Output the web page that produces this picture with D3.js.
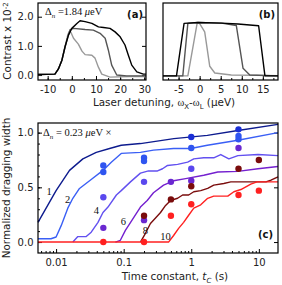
<!DOCTYPE html>
<meta charset="utf-8">
<script src="https://cdn.jsdelivr.net/npm/d3@7"></script>
<style>

body {
  margin: 0;
  background: #fff;
}

svg text {
  font-family: "DejaVu Sans", sans-serif;
  font-size: 10px;
  fill: #222;
}

svg text.title {
  font-size: 10.4px;
}

svg text.serif {
  font-family: "Liberation Serif", serif;
  font-size: 10.5px;
  fill: #111;
}

svg text.panel {
  font-weight: bold;
  font-size: 10px;
  fill: #111;
}

.frame {
  fill: none;
  stroke: #000;
  stroke-width: 1.2;
}

.axis path {
  display: none;
}

.axis line {
  stroke: #000;
}

.curve {
  fill: none;
  stroke-width: 1.4;
  stroke-linejoin: round;
}

</style>
<body>
<div id="chart"></div>
<script type="text/javascript">

// panel (a): contrast vs laser detuning, Delta_n = 1.84 ueV
var aBlack = [[-14,0.02],[-7,0.03],[-5.6,0.2],[-4.1,0.51],[-2.8,0.97],[-1.4,1.37],[0,1.6],[2.1,1.77],[3.4,1.86],[5.5,1.83],[8.3,1.77],[11,1.65],[13.1,1.63],[15.8,1.6],[17.9,1.48],[20,1.31],[22,1.03],[23.4,0.68],[24.8,0.34],[26.9,0.11],[29.6,0.03],[30.7,0.03]];
var aDark = [[-14,0.02],[-7,0.03],[-5.6,0.2],[-4.1,0.51],[-2.8,0.97],[-1.4,1.37],[-0.7,1.56],[0.7,1.6],[5.5,1.56],[8.9,1.54],[11.7,1.43],[13.8,1.26],[15.1,0.86],[16.5,0.34],[18.6,0.0],[22.7,-0.03],[30.7,-0.03]];
var aLight = [[-14,0.02],[-7,0.03],[-5.6,0.2],[-4.1,0.51],[-2.8,0.97],[-1.6,1.4],[-1.0,1.5],[-0.3,1.45],[0.7,1.26],[2.7,1.06],[4.2,0.82],[5.5,0.7],[8.3,0.68],[9.6,0.58],[11,0.27],[12.4,0.03],[15.8,-0.07],[24,-0.05],[30.7,-0.05]];

// panel (b)
var bBlack = [[-8.7,-0.03],[-5.5,-0.03],[-3.7,1.77],[-0.4,1.8],[5.2,1.78],[9.1,1.75],[14,1.69],[15.5,-0.03],[18.6,-0.03]];
var bDark = [[-8.7,-0.03],[-4.0,-0.03],[-2.8,1.77],[-0.4,1.8],[5.2,1.78],[8.7,1.7],[10.3,0.23],[11.9,0],[18.6,-0.03]];
var bLight = [[-8.7,-0.03],[-2.8,-0.03],[-0.6,1.77],[-0.1,1.79],[1.2,1.48],[2.4,0.3],[3.6,0.07],[7.5,0.0],[18.6,-0.02]];

// panel (c): normalized dragging width vs time constant, Delta_n multiples
var curve1 = [[0.0054,0.18],[0.01,0.47],[0.0158,0.655],[0.0249,0.76],[0.0393,0.82],[0.0619,0.855],[0.092,0.885],[0.177,0.9],[0.553,0.945],[1.73,0.975],[4.9,1.02],[19.2,1.075]];
var curve2 = [[0.0054,0.03],[0.0084,0.03],[0.01,0.046],[0.0119,0.15],[0.0149,0.31],[0.0177,0.40],[0.0222,0.49],[0.032,0.565],[0.0494,0.655],[0.0656,0.73],[0.092,0.81],[0.177,0.82],[0.276,0.84],[0.548,0.855],[0.98,0.855],[1.73,0.885],[4.9,0.93],[19.2,1.0]];
var curve4 = [[0.0177,0],[0.021,0.05],[0.0279,0.05],[0.0331,0.09],[0.0417,0.18],[0.0494,0.27],[0.0586,0.32],[0.078,0.43],[0.092,0.47],[0.126,0.55],[0.177,0.63],[0.233,0.65],[0.317,0.65],[0.376,0.67],[0.446,0.70],[0.628,0.71],[0.885,0.73],[1.09,0.76],[1.53,0.77],[2.15,0.77],[2.73,0.80],[3.6,0.76],[4.9,0.79],[9.7,0.80],[19.2,0.79]];
var curve6 = [[0.0754,0],[0.0893,0.016],[0.106,0.107],[0.133,0.2],[0.177,0.32],[0.223,0.38],[0.276,0.45],[0.389,0.52],[0.548,0.56],[0.826,0.58],[1.53,0.61],[2.47,0.64],[4.9,0.646],[9.7,0.67],[19.2,0.69]];
var curve8 = [[0.177,0],[0.21,0.08],[0.249,0.17],[0.296,0.22],[0.351,0.27],[0.417,0.335],[0.494,0.38],[0.628,0.40],[0.745,0.43],[0.915,0.43],[1.09,0.46],[1.38,0.47],[1.75,0.49],[2.15,0.52],[3.03,0.535],[3.85,0.55],[12.7,0.55],[15.1,0.565],[19.2,0.595]];
var curve10 = [[0.0054,0],[0.461,0],[0.548,0.06],[0.65,0.125],[0.771,0.18],[0.915,0.245],[1.09,0.31],[1.38,0.34],[1.75,0.40],[2.15,0.42],[3.47,0.42],[4.27,0.46],[5.42,0.48],[7.6,0.53],[9.4,0.55],[19.2,0.55]];

// measured points
var dots1 = [[1,0.96],[5,1.03]];
var dots2 = [[0.05,0.70],[0.05,0.64],[0.2,0.77],[0.2,0.74],[1,0.86],[5,0.97],[5,0.94]];
var dots4 = [[0.05,0.41],[0.2,0.55],[1,0.67]];
var dots6 = [[0.05,0.13],[0.2,0.20],[0.5,0.55],[1,0.56],[5,0.86]];
var dots8 = [[0.2,0.24],[0.5,0.39],[1,0.51],[5,0.67],[10,0.75]];
var dots10 = [[0.05,0],[0.2,0],[0.5,0.24],[1,0.345],[5,0.43],[10,0.47]];

// curve number labels (position in data units)
var curveNames = ["1", "2", "4", "6", "8", "10"];
var labelT = [0.0079, 0.0148, 0.0393, 0.0989, 0.21, 0.417];
var labelV = [0.43, 0.355, 0.255, 0.155, 0.07, 0.016];

var aTicks = [-10, 0, 10, 20, 30];
var bTicks = [-5, 0, 5, 10, 15];
var contrastTicks = [0, 1, 2];
var cxTicks = [0.01, 0.1, 1, 10];
var cxTickLabels = ["0.01", "0.1", "1", "10"];
var cyTicks = [0, 0.5, 1];

var svg = d3.select("#chart").append("svg")
    .attr("width", 282)
    .attr("height", 285);

// scales
var xa = d3.scaleLinear().domain([-14, 30.7]).range([38, 146]);
var xb = d3.scaleLinear().domain([-8.7, 18.6]).range([163, 278]);
var ya = d3.scaleLinear().domain([-0.17, 2.47]).range([80, 3]);
var xc = d3.scaleLog().domain([0.0054, 19.2]).range([38, 278]);
var yc = d3.scaleLinear().domain([-0.1, 1.088]).range([253, 123]);

// put text with sub/superscripts into a text element
function addRich(text, parts) {
  var shift = 0;
  parts.forEach(function(p) {
    var target = p.sub ? 2.5 : (p.sup ? -3.5 : 0);
    var ts = text.append("tspan").attr("dy", target - shift).text(p.t);
    shift = target;
    if (p.i) ts.style("font-style", "italic");
    if (p.serif) ts.style("font-family", "'Liberation Serif', serif");
    if (target !== 0) ts.style("font-size", "7px");
  });
}

// ---------- panel (a) ----------
svg.append("g")
    .attr("class", "axis")
    .attr("transform", "translate(0,80)")
    .call(d3.axisBottom(xa).tickValues(d3.range(-10, 31, 5)).tickSize(-2).tickFormat(""));
svg.append("g")
    .attr("class", "axis")
    .attr("transform", "translate(0,80)")
    .call(d3.axisBottom(xa).tickValues(aTicks).tickSize(-4).tickPadding(6).tickFormat(function(d) { return String(d); }));
svg.append("g")
    .attr("class", "axis")
    .attr("transform", "translate(38,0)")
    .call(d3.axisLeft(ya).tickValues(contrastTicks).tickSize(-4).tickPadding(4.5).tickFormat(d3.format(".1f")));
svg.append("g")
    .attr("class", "axis")
    .attr("transform", "translate(146,0)")
    .call(d3.axisRight(ya).tickValues(contrastTicks).tickSize(-4).tickFormat(""));

var lineA = d3.line()
    .x(function(d) { return xa(d[0]); })
    .y(function(d) { return ya(d[1]); });

[[aLight, "#999"], [aDark, "#555"], [aBlack, "#000"]].forEach(function(s) {
  svg.append("path")
      .datum(s[0])
      .attr("class", "curve")
      .attr("stroke", s[1])
      .attr("d", lineA);
});

svg.append("rect").attr("class", "frame")
    .attr("x", 38).attr("y", 3).attr("width", 108).attr("height", 77);

var ta = svg.append("text").attr("class", "serif").attr("x", 45).attr("y", 15);
addRich(ta, [{t: "Δ"}, {t: "n", i: true, sub: true}, {t: " =1.84 "}, {t: "μ", i: true}, {t: "eV"}]);

svg.append("text").attr("class", "panel")
    .attr("x", 143).attr("y", 18).attr("text-anchor", "end").text("(a)");

// ---------- panel (b) ----------
svg.append("g")
    .attr("class", "axis")
    .attr("transform", "translate(0,80)")
    .call(d3.axisBottom(xb).tickValues(d3.range(-7.5, 18, 2.5)).tickSize(-2).tickFormat(""));
svg.append("g")
    .attr("class", "axis")
    .attr("transform", "translate(0,80)")
    .call(d3.axisBottom(xb).tickValues(bTicks).tickSize(-4).tickPadding(6).tickFormat(function(d) { return String(d); }));

var lineB = d3.line()
    .x(function(d) { return xb(d[0]); })
    .y(function(d) { return ya(d[1]); });

[[bLight, "#999"], [bDark, "#555"], [bBlack, "#000"]].forEach(function(s) {
  svg.append("path")
      .datum(s[0])
      .attr("class", "curve")
      .attr("stroke", s[1])
      .attr("d", lineB);
});

svg.append("rect").attr("class", "frame")
    .attr("x", 163).attr("y", 3).attr("width", 115).attr("height", 77);

svg.append("text").attr("class", "panel")
    .attr("x", 275).attr("y", 18).attr("text-anchor", "end").text("(b)");

// shared labels of top row
var ylabA = svg.append("text")
    .attr("class", "title")
    .attr("transform", "translate(11,41) rotate(-90)")
    .attr("text-anchor", "middle");
addRich(ylabA, [{t: "Contrast x 10"}, {t: "-2", sup: true}]);

var xlabA = svg.append("text")
    .attr("class", "title")
    .attr("x", 164).attr("y", 106)
    .attr("text-anchor", "middle");
addRich(xlabA, [{t: "Laser detuning, "}, {t: "ω", serif: true}, {t: "X", sub: true}, {t: "-"}, {t: "ω", serif: true}, {t: "L", sub: true}, {t: " (μeV)"}]);

// ---------- panel (c) ----------
var minorC = [];
[-3, -2, -1, 0, 1].forEach(function(e) {
  for (var k = 2; k < 10; k++) {
    var v = k * Math.pow(10, e);
    if (v > 0.0054 && v < 19.2) minorC.push(v);
  }
});

svg.append("g")
    .attr("class", "axis")
    .attr("transform", "translate(0,253)")
    .call(d3.axisBottom(xc).tickValues(minorC).tickSize(-2).tickFormat(""));
svg.append("g")
    .attr("class", "axis")
    .attr("transform", "translate(0,253)")
    .call(d3.axisBottom(xc).tickValues(cxTicks).tickSize(-4).tickPadding(6)
      .tickFormat(function(d, i) { return cxTickLabels[i]; }));
svg.append("g")
    .attr("class", "axis")
    .attr("transform", "translate(38,0)")
    .call(d3.axisLeft(yc).tickValues(d3.range(0, 1.05, 0.1)).tickSize(-2).tickFormat(""));
svg.append("g")
    .attr("class", "axis")
    .attr("transform", "translate(38,0)")
    .call(d3.axisLeft(yc).tickValues(cyTicks).tickSize(-4).tickPadding(4.5).tickFormat(d3.format(".1f")));
svg.append("g")
    .attr("class", "axis")
    .attr("transform", "translate(278,0)")
    .call(d3.axisRight(yc).tickValues(cyTicks).tickSize(-4).tickFormat(""));

var series = [
  {line: curve1, dots: dots1, color: "#0d1b8e", dot: "#1a2fd6"},
  {line: curve2, dots: dots2, color: "#3a5ff5", dot: "#2f55f0"},
  {line: curve4, dots: dots4, color: "#6250f0", dot: "#5a48ee"},
  {line: curve6, dots: dots6, color: "#7420cf", dot: "#6a28d0"},
  {line: curve8, dots: dots8, color: "#7a0c0c", dot: "#7a0c0c"},
  {line: curve10, dots: dots10, color: "#ff2020", dot: "#ff2020"}
];

var lineC = d3.line()
    .x(function(d) { return xc(d[0]); })
    .y(function(d) { return yc(d[1]); });

series.forEach(function(s) {
  svg.append("path")
      .datum(s.line)
      .attr("class", "curve")
      .attr("stroke", s.color)
      .attr("d", lineC);
});

series.forEach(function(s) {
  svg.selectAll(null)
      .data(s.dots)
    .enter().append("circle")
      .attr("cx", function(d) { return xc(d[0]); })
      .attr("cy", function(d) { return yc(d[1]); })
      .attr("r", 3.2)
      .attr("fill", s.dot);
});

svg.selectAll(".cname")
    .data(curveNames)
  .enter().append("text")
    .attr("class", "serif cname")
    .attr("text-anchor", "middle")
    .attr("x", function(d, i) { return xc(labelT[i]); })
    .attr("y", function(d, i) { return yc(labelV[i]); })
    .text(function(d) { return d; });

svg.append("rect").attr("class", "frame")
    .attr("x", 38).attr("y", 123).attr("width", 240).attr("height", 130);

var tc = svg.append("text").attr("class", "serif").attr("x", 43).attr("y", 136);
addRich(tc, [{t: "Δ"}, {t: "n", i: true, sub: true}, {t: " = 0.23 "}, {t: "μ", i: true}, {t: "eV ×"}]);

svg.append("text").attr("class", "panel")
    .attr("x", 273).attr("y", 238).attr("text-anchor", "end").text("(c)");

svg.append("text")
    .attr("class", "title")
    .attr("transform", "translate(10,188) rotate(-90)")
    .attr("text-anchor", "middle")
    .text("Normalized dragging width");

var xlabC = svg.append("text")
    .attr("class", "title")
    .attr("x", 175).attr("y", 280)
    .attr("text-anchor", "middle");
addRich(xlabC, [{t: "Time constant, "}, {t: "t", i: true}, {t: "C", i: true, sub: true}, {t: " (s)"}]);

</script>
</body>
